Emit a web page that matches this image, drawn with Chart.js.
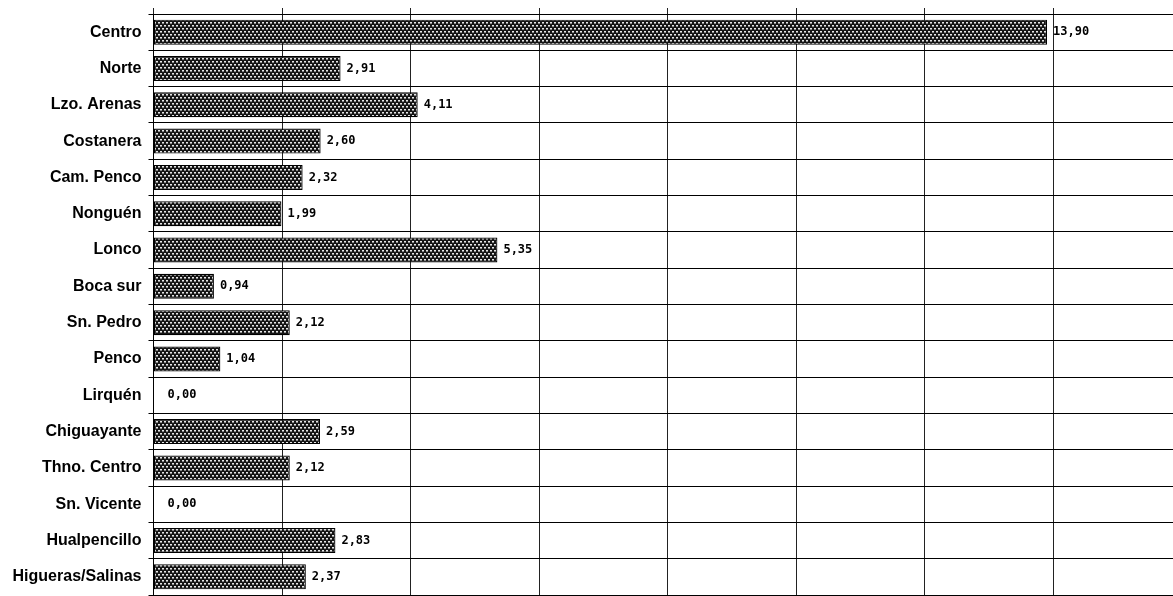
<!DOCTYPE html>
<html>
<head>
<meta charset="utf-8">
<script src="https://cdn.jsdelivr.net/npm/chart.js@4/dist/chart.umd.min.js"></script>
<style>
html,body{margin:0;padding:0;background:#fff;overflow:hidden;}
#wrap{position:relative;width:1182px;height:596px;}
</style>
</head>
<body>
<div id="wrap"><canvas id="c" width="1182" height="596"></canvas></div>
<script>
const categories = ["Centro","Norte","Lzo. Arenas","Costanera","Cam. Penco","Nonguén","Lonco","Boca sur","Sn. Pedro","Penco","Lirquén","Chiguayante","Thno. Centro","Sn. Vicente","Hualpencillo","Higueras/Salinas"];
const values = [13.90,2.91,4.11,2.60,2.32,1.99,5.35,0.94,2.12,1.04,0.00,2.59,2.12,0.00,2.83,2.37];
const xMin = 0, xMax = 16, xStep = 2;

function makePattern(){
  const p = document.createElement('canvas');
  p.width = 4; p.height = 6;
  const g = p.getContext('2d');
  g.fillStyle = '#151515'; g.fillRect(0,0,4,6);
  g.fillStyle = '#e6e6e6';
  g.fillRect(0,1,2,1);
  g.fillRect(2,4,2,1);
  g.fillStyle = '#8a8a8a';
  g.fillRect(0,2,2,1);
  g.fillRect(2,5,2,1);
  return document.getElementById('c').getContext('2d').createPattern(p,'repeat');
}

const labelPlugin = {
  id:'vals',
  afterDatasetsDraw(chart){
    const ctx = chart.ctx;
    const meta = chart.getDatasetMeta(0);
    ctx.save();
    ctx.font = 'bold 12px "DejaVu Sans Mono"';
    ctx.fillStyle = '#000';
    ctx.textBaseline = 'middle';
    ctx.textAlign = 'left';
    meta.data.forEach((bar,i)=>{
      const v = values[i];
      const txt = v.toFixed(2).replace('.', ',');
      const off = v === 0 ? 14 : 6;
      ctx.fillText(txt, bar.x + off, bar.y);
    });
    ctx.restore();
  }
};

new Chart(document.getElementById('c'), {
  type:'bar',
  data:{
    labels: categories,
    datasets:[{
      data: values,
      backgroundColor: makePattern(),
      borderColor:'#000',
      borderWidth:1.2,
      borderSkipped:false,
      categoryPercentage:1,
      barPercentage:0.69
    }]
  },
  options:{
    indexAxis:'y',
    responsive:false,
    animation:false,
    events:[],
    layout:{padding:{top:8,bottom:1,left:0,right:0}},
    plugins:{legend:{display:false},tooltip:{enabled:false}},
    scales:{
      x:{
        position:'top',
        min:xMin,max:xMax,
        ticks:{display:false,stepSize:xStep},
        grid:{color:'#222',lineWidth:1,tickLength:6,drawTicks:true},
        border:{display:true,color:'#000',width:1}
      },
      y:{
        grid:{offset:true,color:'#000',lineWidth:1,tickLength:5},
        border:{display:true,color:'#000',width:1},
        ticks:{padding:7,color:'#000',font:{family:'"Liberation Sans", Arial, sans-serif',size:16,weight:'bold'}},
        afterFit(s){ s.width = 153.5; s.paddingTop = 0; s.paddingBottom = 0; }
      }
    }
  },
  plugins:[labelPlugin]
});
</script>
</body>
</html>
